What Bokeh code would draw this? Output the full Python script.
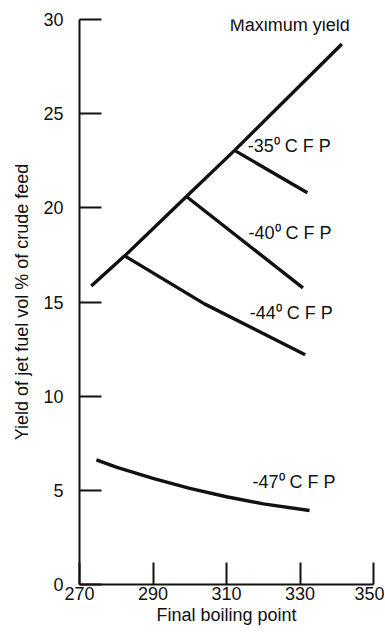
from bokeh.plotting import figure
from bokeh.models import Range1d, FixedTicker, ColumnDataSource
from bokeh.core.properties import value
from bokeh.embed import file_html
from bokeh.resources import INLINE

# ---- data ----
x_ticks = [270, 290, 310, 330, 350]
y_ticks = [0, 5, 10, 15, 20, 25, 30]

max_x = [273.2, 282.3, 299.1, 312.2, 341.4]
max_y = [15.85, 17.45, 20.6, 23.05, 28.7]

cfp35_x = [312.2, 332.0]
cfp35_y = [23.05, 20.8]

cfp40_x = [299.1, 330.8]
cfp40_y = [20.6, 15.75]

cfp44_x = [282.3, 304.0, 331.4]
cfp44_y = [17.45, 14.9, 12.2]

cfp47_x = [274.6, 280.0, 290.0, 300.0, 310.0, 320.0, 332.6]
cfp47_y = [6.62, 6.23, 5.63, 5.1, 4.66, 4.28, 3.93]

label_text = ["Maximum yield", "-35\u2070 C F P", "-40\u2070 C F P",
              "-44\u2070 C F P", "-47\u2070 C F P"]
label_x = [310.9, 315.8, 316.0, 316.3, 317.1]
label_y = [29.73, 23.3, 18.69, 14.44, 5.45]

FONT = "Liberation Sans"
INK = "#111111"

p = figure(width=384, height=642, output_backend="svg", toolbar_location=None,
           x_range=Range1d(270, 350), y_range=Range1d(0, 30),
           min_border_left=79, min_border_right=11, min_border_top=19,
           min_border_bottom=58)
p.outline_line_color = None
p.grid.visible = False
p.background_fill_color = "white"
p.border_fill_color = "white"

for ax in (p.xaxis[0], p.yaxis[0]):
    ax.major_tick_in = 22
    ax.major_tick_out = 0
    ax.minor_tick_line_color = None
    ax.axis_line_width = 2
    ax.major_tick_line_width = 2
    ax.axis_line_color = INK
    ax.major_tick_line_color = INK
    ax.major_label_text_font = FONT
    ax.major_label_text_font_size = "18px"
    ax.major_label_text_color = INK
    ax.axis_label_text_font = FONT
    ax.axis_label_text_font_size = "18px"
    ax.axis_label_text_font_style = "normal"
    ax.axis_label_text_color = INK

p.xaxis[0].ticker = FixedTicker(ticks=x_ticks)
p.yaxis[0].ticker = FixedTicker(ticks=y_ticks)
p.xaxis[0].major_label_standoff = 2
p.yaxis[0].major_label_standoff = 16
p.xaxis[0].axis_label = "Final boiling point"
p.yaxis[0].axis_label = "Yield of jet fuel vol % of crude feed"
p.xaxis[0].axis_label_standoff = 2
p.yaxis[0].axis_label_standoff = 8

lw = 3.4
p.line(max_x, max_y, line_width=lw, line_color=INK)
p.line(cfp35_x, cfp35_y, line_width=lw, line_color=INK)
p.line(cfp40_x, cfp40_y, line_width=lw, line_color=INK)
p.line(cfp44_x, cfp44_y, line_width=lw, line_color=INK)
p.line(cfp47_x, cfp47_y, line_width=lw, line_color=INK)

src = ColumnDataSource(dict(x=label_x, y=label_y, t=label_text))
p.text(x="x", y="y", text="t", source=src, text_font=value(FONT),
       text_font_size="18px", text_color=INK, text_align="left",
       text_baseline="middle")

open("out.html", "w").write(file_html(p, INLINE))
